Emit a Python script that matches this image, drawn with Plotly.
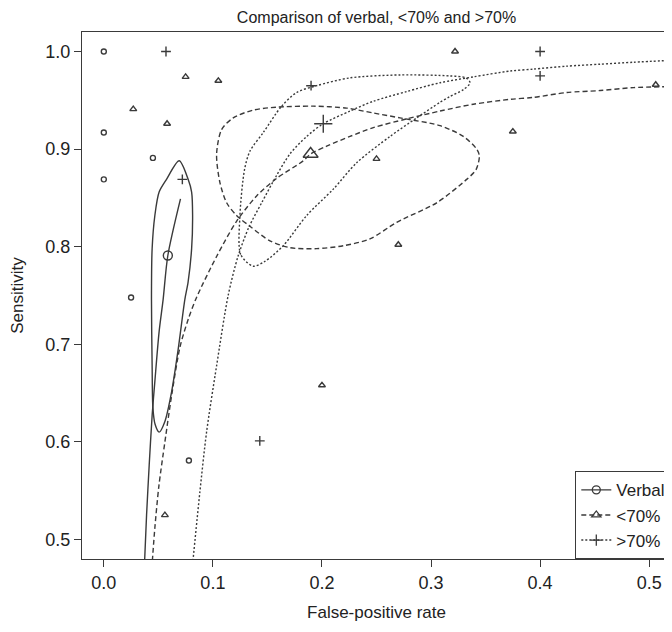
import plotly.graph_objects as go

# study points (false-positive rate, sensitivity)
verbal_fpr = [0.0, 0.0, 0.045, 0.0, 0.025, 0.078]
verbal_sens = [1.0, 0.917, 0.891, 0.869, 0.748, 0.581]

lo_fpr = [0.075, 0.105, 0.027, 0.058, 0.056, 0.200, 0.322, 0.375, 0.250, 0.270, 0.506]
lo_sens = [0.974, 0.970, 0.941, 0.926, 0.525, 0.658, 1.0, 0.918, 0.890, 0.802, 0.966]

hi_fpr = [0.057, 0.072, 0.143, 0.190, 0.400, 0.400]
hi_sens = [1.0, 0.869, 0.601, 0.965, 1.0, 0.975]

# summary estimates
summ_fpr = {"Verbal": 0.0587, "<70%": 0.1896, ">70%": 0.2012}
summ_sens = {"Verbal": 0.791, "<70%": 0.895, ">70%": 0.926}

# SROC curves
verbal_sroc_fpr = [0.0374, 0.0392, 0.0416, 0.0443, 0.0468, 0.0507, 0.0544, 0.0587, 0.0703]
verbal_sroc_sens = [0.478, 0.525, 0.576, 0.627, 0.662, 0.713, 0.746, 0.791, 0.849]

lo_sroc_fpr = [0.0445, 0.0468, 0.0505, 0.0560, 0.0625, 0.0700, 0.0775, 0.0850, 0.1034, 0.1217,
               0.1401, 0.1584, 0.1829, 0.1896, 0.2043, 0.2257, 0.2471, 0.2777, 0.3083, 0.3388,
               0.3725, 0.3939, 0.4245, 0.4550, 0.4856, 0.5211]
lo_sroc_sens = [0.478, 0.512, 0.555, 0.600, 0.650, 0.698, 0.726, 0.748, 0.790, 0.826,
                0.852, 0.870, 0.888, 0.895, 0.903, 0.913, 0.922, 0.931, 0.939, 0.946,
                0.951, 0.953, 0.958, 0.960, 0.963, 0.964]

hi_sroc_fpr = [0.0817, 0.0881, 0.0942, 0.1034, 0.1140, 0.1230, 0.1330, 0.1447, 0.1584, 0.1706,
               0.1860, 0.2012, 0.2257, 0.2471, 0.2777, 0.3083, 0.3388, 0.3725, 0.3939, 0.4245,
               0.4550, 0.4856, 0.5211]
hi_sroc_sens = [0.478, 0.549, 0.610, 0.678, 0.750, 0.790, 0.820, 0.845, 0.873, 0.895,
                0.913, 0.926, 0.939, 0.949, 0.959, 0.968, 0.974, 0.980, 0.982, 0.985,
                0.987, 0.989, 0.991]

# confidence regions
verbal_ell_fpr = [0.0691, 0.0773, 0.0805, 0.0814, 0.0805, 0.0773, 0.0743, 0.0682, 0.0621, 0.0560,
                  0.0507, 0.0470, 0.0450, 0.0443, 0.0437, 0.0443, 0.0468, 0.0507, 0.0575, 0.0691]
verbal_ell_sens = [0.888, 0.869, 0.856, 0.832, 0.798, 0.764, 0.746, 0.695, 0.651, 0.621,
                   0.610, 0.618, 0.635, 0.678, 0.746, 0.798, 0.832, 0.856, 0.869, 0.888]

lo_ell_fpr = [0.1034, 0.1080, 0.1186, 0.1370, 0.1584, 0.1920, 0.2227, 0.2471, 0.2716, 0.3083,
              0.3296, 0.3419, 0.3443, 0.3413, 0.3327, 0.3052, 0.2685, 0.2440, 0.2196, 0.1951,
              0.1706, 0.1523, 0.1339, 0.1217, 0.1126, 0.1064, 0.1034]
lo_ell_sens = [0.895, 0.920, 0.932, 0.940, 0.943, 0.944, 0.942, 0.937, 0.932, 0.924,
               0.913, 0.900, 0.893, 0.879, 0.869, 0.845, 0.825, 0.808, 0.801, 0.798,
               0.799, 0.806, 0.821, 0.832, 0.845, 0.866, 0.895]

hi_ell_fpr = [0.1370, 0.1255, 0.1248, 0.1290, 0.1340, 0.1462, 0.1630, 0.1768, 0.1951, 0.2257,
              0.2716, 0.3174, 0.3320, 0.3358, 0.3297, 0.3174, 0.3083, 0.2869, 0.2624, 0.2318,
              0.2104, 0.1860, 0.1645, 0.1477, 0.1370]
hi_ell_sens = [0.780, 0.792, 0.832, 0.879, 0.898, 0.917, 0.944, 0.958, 0.965, 0.973,
               0.976, 0.975, 0.973, 0.968, 0.961, 0.954, 0.948, 0.932, 0.913, 0.886,
               0.859, 0.832, 0.801, 0.785, 0.780]

INK = "#3a3a3a"
TXT = "#222"
FONT = "Liberation Sans, Arial, sans-serif"
DASH = {"Verbal": "solid", "<70%": "5px,3px", ">70%": "2px,2px"}
SYM = {"Verbal": "circle-open", "<70%": "triangle-up-open", ">70%": "cross-thin-open"}

fig = go.Figure()


def add_line(x, y, group):
    fig.add_trace(go.Scatter(x=x, y=y, mode="lines", showlegend=False, hoverinfo="skip",
                             line=dict(color=INK, width=1.4, dash=DASH[group], shape="spline", smoothing=0.8)))


add_line(verbal_ell_fpr, verbal_ell_sens, "Verbal")
add_line(verbal_sroc_fpr, verbal_sroc_sens, "Verbal")
add_line(lo_ell_fpr, lo_ell_sens, "<70%")
add_line(lo_sroc_fpr, lo_sroc_sens, "<70%")
add_line(hi_ell_fpr, hi_ell_sens, ">70%")
add_line(hi_sroc_fpr, hi_sroc_sens, ">70%")

pts = {"Verbal": (verbal_fpr, verbal_sens, 5), "<70%": (lo_fpr, lo_sens, 6), ">70%": (hi_fpr, hi_sens, 7)}
for g, (x, y, s) in pts.items():
    fig.add_trace(go.Scatter(x=x, y=y, mode="markers", showlegend=False,
                             marker=dict(symbol=SYM[g], size=s, color=INK, line=dict(width=1.4, color=INK))))

big = {"Verbal": 9, "<70%": 13, ">70%": 13}
for g in summ_fpr:
    fig.add_trace(go.Scatter(x=[summ_fpr[g]], y=[summ_sens[g]], mode="markers", showlegend=False,
                             marker=dict(symbol=SYM[g], size=big[g], color=INK, line=dict(width=1.4, color=INK))))

# legend entries
for g in ["Verbal", "<70%", ">70%"]:
    fig.add_trace(go.Scatter(x=[None], y=[None], mode="lines+markers", name=g,
                             line=dict(color=INK, width=1.4, dash=DASH[g]),
                             marker=dict(symbol=SYM[g], size=8, color=INK, line=dict(width=1.3, color=INK))))

axis_common = dict(showline=True, linecolor=INK, linewidth=1.3, mirror=True, ticks="outside",
                   ticklen=7, tickwidth=1.3, tickcolor=INK, showgrid=False, zeroline=False,
                   automargin=False, tickfont=dict(size=18, color=TXT, family=FONT))

fig.update_xaxes(range=[-0.02, 0.52], tickvals=[0, 0.1, 0.2, 0.3, 0.4, 0.5], tickformat=".1f",
                 title=dict(text="False-positive rate", font=dict(size=17, color=TXT, family=FONT), standoff=14),
                 **axis_common)
fig.update_yaxes(range=[0.48, 1.02], tickvals=[0.5, 0.6, 0.7, 0.8, 0.9, 1.0], tickformat=".1f",
                 title=dict(text="Sensitivity", font=dict(size=17, color=TXT, family=FONT), standoff=24),
                 **axis_common)

# page body adds an 8px offset, so the figure is sized 8px smaller
fig.update_layout(
    width=664, height=624,
    margin=dict(l=74, r=1, t=24, b=73),
    paper_bgcolor="white", plot_bgcolor="white",
    font=dict(family=FONT, color=TXT, size=17),
    title=dict(text="Comparison of verbal, <70% and >70%", x=0.555, xanchor="center",
               y=1, yanchor="top", pad=dict(t=4), font=dict(size=16, color=TXT, family=FONT)),
    legend=dict(x=1, y=0, xanchor="right", yanchor="bottom", bgcolor="white",
                bordercolor=INK, borderwidth=1.3, font=dict(size=17, color=TXT, family=FONT),
                itemwidth=30, tracegroupgap=0),
)

fig.write_html("out.html")
